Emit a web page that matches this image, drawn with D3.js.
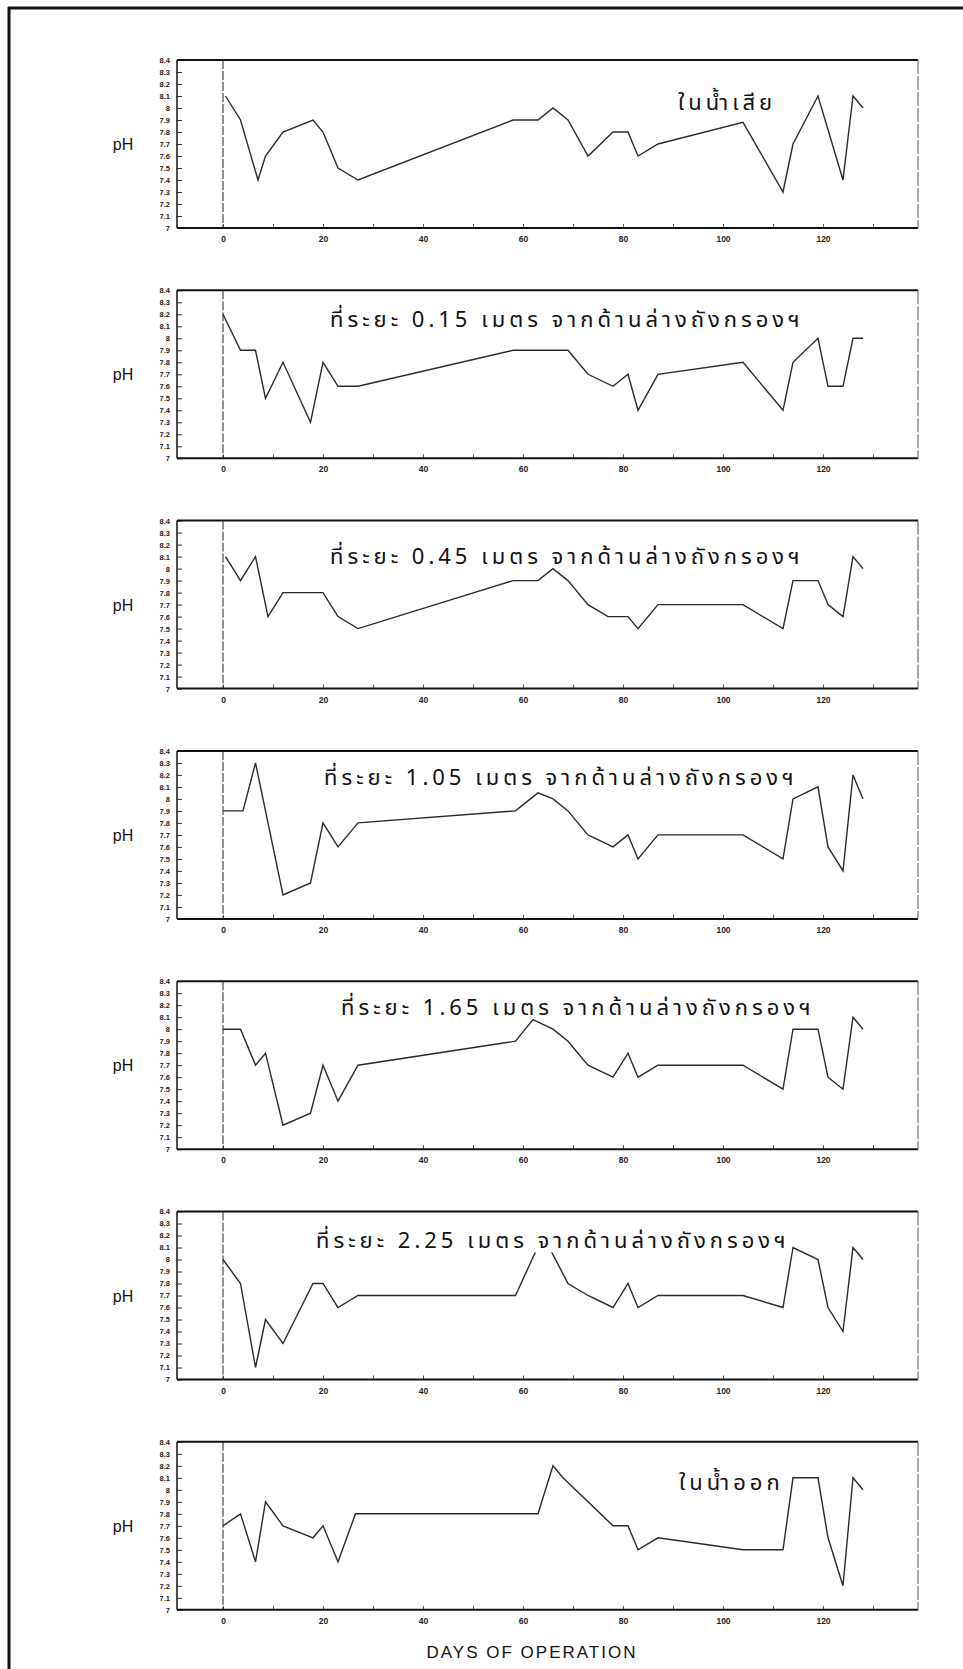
<!DOCTYPE html>
<html>
<head>
<meta charset="utf-8">
<script src="https://cdn.jsdelivr.net/npm/d3@7"></script>
<style>
  body { margin: 0; background: #fff; }
  svg { display: block; }
</style>
</head>
<body>
<svg id="chart" width="963" height="1669"></svg>
<script>
// panel titles
const titles = [
  "ในน้ำเสีย",
  "ที่ระยะ 0.15 เมตร จากด้านล่างถังกรองฯ",
  "ที่ระยะ 0.45 เมตร จากด้านล่างถังกรองฯ",
  "ที่ระยะ 1.05 เมตร จากด้านล่างถังกรองฯ",
  "ที่ระยะ 1.65 เมตร จากด้านล่างถังกรองฯ",
  "ที่ระยะ 2.25 เมตร จากด้านล่างถังกรองฯ",
  "ในน้ำออก"
];

// days of operation / pH, one pair per panel
const days1 = [0.5, 3.5, 7, 8.5, 12, 18, 20, 23, 27, 58, 63, 66, 69, 73, 78, 81, 83, 87, 104, 112, 114, 119, 124, 126, 128];
const ph1   = [8.1, 7.9, 7.4, 7.6, 7.8, 7.9, 7.8, 7.5, 7.4, 7.9, 7.9, 8.0, 7.9, 7.6, 7.8, 7.8, 7.6, 7.7, 7.88, 7.3, 7.7, 8.1, 7.4, 8.1, 8.0];

const days2 = [0, 3.5, 6.5, 8.5, 12, 17.5, 20, 23, 27, 58, 69, 73, 78, 81, 83, 87, 104, 112, 114, 119, 121, 124, 126, 128];
const ph2   = [8.2, 7.9, 7.9, 7.5, 7.8, 7.3, 7.8, 7.6, 7.6, 7.9, 7.9, 7.7, 7.6, 7.7, 7.4, 7.7, 7.8, 7.4, 7.8, 8.0, 7.6, 7.6, 8.0, 8.0];

const days3 = [0.5, 3.5, 6.5, 9, 12, 20, 23, 27, 58, 63, 66, 69, 73, 77, 81, 83, 87, 104, 112, 114, 119, 121, 124, 126, 128];
const ph3   = [8.1, 7.9, 8.1, 7.6, 7.8, 7.8, 7.6, 7.5, 7.9, 7.9, 8.0, 7.9, 7.7, 7.6, 7.6, 7.5, 7.7, 7.7, 7.5, 7.9, 7.9, 7.7, 7.6, 8.1, 8.0];

const days4 = [0, 4, 6.5, 9, 12, 17.5, 20, 23, 27, 58.5, 63, 66, 69, 73, 78, 81, 83, 87, 104, 112, 114, 119, 121, 124, 126, 128];
const ph4   = [7.9, 7.9, 8.3, 7.8, 7.2, 7.3, 7.8, 7.6, 7.8, 7.9, 8.05, 8.0, 7.9, 7.7, 7.6, 7.7, 7.5, 7.7, 7.7, 7.5, 8.0, 8.1, 7.6, 7.4, 8.2, 8.0];

const days5 = [0, 3.5, 6.5, 8.5, 12, 17.5, 20, 23, 27, 58.5, 62, 66, 69, 73, 78, 81, 83, 87, 104, 112, 114, 119, 121, 124, 126, 128];
const ph5   = [8.0, 8.0, 7.7, 7.8, 7.2, 7.3, 7.7, 7.4, 7.7, 7.9, 8.08, 8.0, 7.9, 7.7, 7.6, 7.8, 7.6, 7.7, 7.7, 7.5, 8.0, 8.0, 7.6, 7.5, 8.1, 8.0];

const days6 = [0, 3.5, 6.5, 8.5, 12, 18, 20, 23, 27, 58.5, 64, 69, 73, 78, 81, 83, 87, 104, 112, 114, 119, 121, 124, 126, 128];
const ph6   = [8.0, 7.8, 7.1, 7.5, 7.3, 7.8, 7.8, 7.6, 7.7, 7.7, 8.2, 7.8, 7.7, 7.6, 7.8, 7.6, 7.7, 7.7, 7.6, 8.1, 8.0, 7.6, 7.4, 8.1, 8.0];

const days7 = [0, 3.5, 6.5, 8.5, 12, 18, 20, 23, 26.5, 63, 66, 68, 78, 81, 83, 87, 104, 112, 114, 119, 121, 124, 126, 128];
const ph7   = [7.7, 7.8, 7.4, 7.9, 7.7, 7.6, 7.7, 7.4, 7.8, 7.8, 8.2, 8.1, 7.7, 7.7, 7.5, 7.6, 7.5, 7.5, 8.1, 8.1, 7.6, 7.2, 8.1, 8.0];

const yTickValues = [7, 7.1, 7.2, 7.3, 7.4, 7.5, 7.6, 7.7, 7.8, 7.9, 8, 8.1, 8.2, 8.3, 8.4];
const yTickLabels = ["7", "7.1", "7.2", "7.3", "7.4", "7.5", "7.6", "7.7", "7.8", "7.9", "8", "8.1", "8.2", "8.3", "8.4"];
const xTickValues = [0, 10, 20, 30, 40, 50, 60, 70, 80, 90, 100, 110, 120, 130];
const xTickLabels = ["0", "", "20", "", "40", "", "60", "", "80", "", "100", "", "120", ""];
const yLabel = "pH";
const xLabel = "DAYS OF OPERATION";

const series = [[days1, ph1], [days2, ph2], [days3, ph3], [days4, ph4], [days5, ph5], [days6, ph6], [days7, ph7]];

// title placement (x, baseline offset from panel top); the 2.25 m one sits on a white patch
const titleLayout = [
  { x: 678, dy: 50 }, { x: 330, dy: 37 }, { x: 330, dy: 43 }, { x: 324, dy: 34 },
  { x: 341, dy: 34 }, { x: 316, dy: 36, patch: 5 }, { x: 679, dy: 48 }
];

const svg = d3.select("#chart");
const panelH = 168;
const x = d3.scaleLinear().domain([-9.2, 139]).range([177, 918]);
const thaiFont = "'Tlwg Typist','Tlwg Typo','Noto Sans Thai','Loma','Garuda','Norasi','DejaVu Sans',sans-serif";

// page frame from the scan
svg.append("line").attr("x1", 8).attr("x2", 963).attr("y1", 8).attr("y2", 8)
  .style("stroke", "#111").style("stroke-width", 3);
svg.append("line").attr("x1", 9).attr("x2", 9).attr("y1", 7).attr("y2", 1669)
  .style("stroke", "#111").style("stroke-width", 3);

series.forEach(([days, ph], i) => {
  const top = 60 + i * 230.3;
  const y = d3.scaleLinear().domain([7, 8.4]).range([top + panelH, top]);
  const g = svg.append("g");
  const [x0, x1] = x.range();

  // y axis: small inward ticks
  g.append("g")
    .attr("transform", `translate(${x0},0)`)
    .call(d3.axisLeft(y).tickValues(yTickValues).tickSize(-5).tickPadding(7)
      .tickFormat((d, j) => yTickLabels[j]))
    .call(a => a.select(".domain").remove())
    .call(a => a.selectAll("line").style("stroke", "#333"))
    .call(a => a.selectAll("text").style("font-size", "7.5px").style("font-weight", "bold")
      .style("font-family", "'Liberation Sans',Arial,sans-serif").style("fill", "#222"));

  // x axis: minor ticks every 10 days, labels every 20
  g.append("g")
    .attr("transform", `translate(0,${top + panelH})`)
    .call(d3.axisBottom(x).tickValues(xTickValues).tickSize(-4).tickPadding(8)
      .tickFormat((d, j) => xTickLabels[j]))
    .call(a => a.select(".domain").remove())
    .call(a => a.selectAll("line").style("stroke", "#555"))
    .call(a => a.selectAll("text").style("font-size", "8.5px").style("font-weight", "bold")
      .style("font-family", "'Liberation Sans',Arial,sans-serif").style("fill", "#222"));

  // box
  g.append("line").attr("x1", x0).attr("x2", x1).attr("y1", top).attr("y2", top)
    .style("stroke", "#111").style("stroke-width", 2);
  g.append("line").attr("x1", x0).attr("x2", x1).attr("y1", top + panelH).attr("y2", top + panelH)
    .style("stroke", "#111").style("stroke-width", 2);
  g.append("line").attr("x1", x0).attr("x2", x0).attr("y1", top).attr("y2", top + panelH)
    .style("stroke", "#111").style("stroke-width", 1.5);
  g.append("line").attr("x1", x1).attr("x2", x1).attr("y1", top).attr("y2", top + panelH)
    .style("stroke", "#555").style("stroke-width", 1).style("stroke-dasharray", "14,2");

  // day 0 marker
  g.append("line").attr("x1", x(0)).attr("x2", x(0)).attr("y1", top).attr("y2", top + panelH)
    .style("stroke", "#222").style("stroke-width", 1).style("stroke-dasharray", "9,2");

  const line = d3.line().x(d => x(d[0])).y(d => y(d[1]));
  g.append("path")
    .datum(d3.zip(days, ph))
    .attr("d", line)
    .style("fill", "none")
    .style("stroke", "#2a2a2a")
    .style("stroke-width", 1.4)
    .style("stroke-linejoin", "miter");

  const lay = titleLayout[i];
  const t = g.append("text")
    .attr("x", lay.x).attr("y", top + lay.dy)
    .style("font-family", thaiFont)
    .style("font-size", "22px")
    .style("letter-spacing", "4px")
    .style("fill", "#111")
    .text(titles[i]);
  if (lay.patch) {
    const b = t.node().getBBox();
    g.append("rect")
      .attr("x", b.x - 2).attr("y", top + 2)
      .attr("width", b.width + 4).attr("height", lay.dy + lay.patch - 2)
      .style("fill", "#fff");
    t.raise();
  }

  g.append("text")
    .attr("x", 123).attr("y", top + panelH / 2 + 6)
    .attr("text-anchor", "middle")
    .style("font-family", "'Liberation Sans',Arial,sans-serif")
    .style("font-size", "16px")
    .style("fill", "#111")
    .text(yLabel);
});

svg.append("text")
  .attr("x", 532).attr("y", 1658)
  .attr("text-anchor", "middle")
  .style("font-family", "'Liberation Sans',Arial,sans-serif")
  .style("font-size", "17px")
  .style("letter-spacing", "2px")
  .style("fill", "#111")
  .text(xLabel);
</script>
</body>
</html>
